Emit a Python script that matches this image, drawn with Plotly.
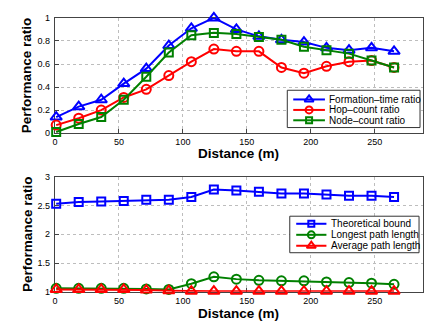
import plotly.graph_objects as go

# Distance (m) at which each configuration was measured
distance = [1, 18.6, 36.2, 53.8, 71.4, 89, 106.6, 124.2, 141.8, 159.4,
            177, 194.6, 212.2, 229.8, 247.4, 265]

# Upper panel: normalised performance ratios
formation_time = [0.14, 0.23, 0.29, 0.43, 0.56, 0.76, 0.91, 1.00, 0.90, 0.84,
                  0.81, 0.79, 0.74, 0.72, 0.74, 0.71]
hop_count = [0.07, 0.13, 0.20, 0.31, 0.38, 0.50, 0.62, 0.73, 0.71, 0.71,
             0.57, 0.52, 0.58, 0.62, 0.63, 0.57]
node_count = [0.01, 0.08, 0.14, 0.29, 0.49, 0.70, 0.85, 0.87, 0.86, 0.835,
              0.81, 0.75, 0.72, 0.69, 0.63, 0.57]

# Lower panel: path-length ratios
theoretical_bound = [2.53, 2.56, 2.57, 2.58, 2.60, 2.60, 2.65, 2.78, 2.76, 2.74,
                     2.71, 2.71, 2.69, 2.67, 2.67, 2.65]
longest_path = [1.06, 1.06, 1.06, 1.06, 1.05, 1.04, 1.14, 1.26, 1.22, 1.20,
                1.19, 1.19, 1.17, 1.16, 1.15, 1.13]
average_path = [1.04, 1.04, 1.04, 1.04, 1.03, 1.02, 1.01, 1.01, 1.01, 1.01,
                1.01, 1.01, 1.01, 1.01, 1.01, 1.01]

top_ticks = [0, 0.2, 0.4, 0.6, 0.8, 1]
top_ticklabels = ["0", "0.2", "0.4", "0.6", "0.8", "1"]
bottom_ticks = [1, 1.5, 2, 2.5, 3]
bottom_ticklabels = ["1", "1.5", "2", "2.5", "3"]
x_ticks = [0, 50, 100, 150, 200, 250, 300]

BLUE, RED, GREEN = "#0000ff", "#ff0000", "#008000"
FONT = "Liberation Sans, Arial, Helvetica, sans-serif"
W, H = 424, 321

top_series = [
    ("Formation\u2013time ratio", formation_time, BLUE, "triangle-up-open", 10),
    ("Hop\u2013count ratio", hop_count, RED, "circle-open", 9),
    ("Node\u2013count ratio", node_count, GREEN, "square-open", 8),
]
bottom_series = [
    ("Theoretical bound", theoretical_bound, BLUE, "square-open", 8),
    ("Longest path length", longest_path, GREEN, "circle-open", 9),
    ("Average path length", average_path, RED, "triangle-up-open", 10),
]

fig = go.Figure()

for name, vals, col, sym, sz in top_series:
    fig.add_trace(go.Scatter(
        x=distance, y=vals, mode="lines+markers", name=name,
        line=dict(color=col, width=2),
        marker=dict(symbol=sym, size=sz, color=col, line=dict(width=2, color=col)),
        cliponaxis=False, showlegend=False, xaxis="x", yaxis="y"))

for name, vals, col, sym, sz in bottom_series:
    fig.add_trace(go.Scatter(
        x=distance, y=vals, mode="lines+markers", name=name,
        line=dict(color=col, width=2),
        marker=dict(symbol=sym, size=sz, color=col, line=dict(width=2, color=col)),
        cliponaxis=False, showlegend=False, xaxis="x2", yaxis="y2"))

# Hand-drawn legends on a pixel-coordinate overlay (compact MATLAB-style rows)
def draw_legend(series, box, line_x, text_x, rows):
    x0, y0, x1, y1 = box
    fig.add_trace(go.Scatter(
        x=[x0, x1, x1, x0, x0], y=[y0, y0, y1, y1, y0], mode="lines",
        fill="toself", fillcolor="white", line=dict(color="#333", width=1),
        hoverinfo="skip", showlegend=False, xaxis="x3", yaxis="y3"))
    for (name, _, col, sym, sz), ry in zip(series, rows):
        xm = (line_x[0] + line_x[1]) / 2
        fig.add_trace(go.Scatter(
            x=[line_x[0], line_x[1]], y=[ry, ry], mode="lines",
            line=dict(color=col, width=2), hoverinfo="skip",
            showlegend=False, xaxis="x3", yaxis="y3"))
        fig.add_trace(go.Scatter(
            x=[xm], y=[ry], mode="markers",
            marker=dict(symbol=sym, size=sz - 2, color=col, line=dict(width=2, color=col)),
            hoverinfo="skip", showlegend=False, xaxis="x3", yaxis="y3"))
        fig.add_annotation(x=text_x, y=ry, xref="x3", yref="y3", text=name,
                           showarrow=False, xanchor="left", yanchor="middle",
                           font=dict(family=FONT, size=10, color="black"))

draw_legend(top_series, (287, 88, 421, 126.5), (293, 325), 327, [97.5, 108.3, 119])
draw_legend(bottom_series, (289.5, 218, 420, 255.7), (296, 326.5), 329, [225.8, 237.2, 248.5])

x_left = 52.4 / W
top_dom = [1 - 132.3 / H, 1 - 13.3 / H]
bot_dom = [1 - 296.0 / H, 1 - 177.3 / H]
x_max = (W - 52.4) / 1.292

axis_common = dict(
    showline=True, linecolor="#444", linewidth=1, mirror=True,
    ticks="inside", ticklen=4, tickcolor="#444",
    showgrid=True, gridcolor="#bdbdbd", griddash="dot", gridwidth=1,
    zeroline=False, layer="below traces",
    tickfont=dict(family=FONT, size=9, color="black"),
)

fig.update_layout(
    width=W, height=H,
    margin=dict(l=0, r=0, t=0, b=0),
    paper_bgcolor="white", plot_bgcolor="rgba(0,0,0,0)",
    font=dict(family=FONT, color="black"),
    xaxis=dict(domain=[x_left, 1], range=[0, x_max], tickvals=x_ticks,
               anchor="y", ticklabelstandoff=0, **axis_common),
    yaxis=dict(domain=top_dom, range=[0, 1], tickvals=top_ticks,
               ticktext=top_ticklabels, anchor="x", ticklabelstandoff=2,
               **axis_common),
    xaxis2=dict(domain=[x_left, 1], range=[0, x_max], tickvals=x_ticks,
                anchor="y2", ticklabelstandoff=0, **axis_common),
    yaxis2=dict(domain=bot_dom, range=[1, 3], tickvals=bottom_ticks,
                ticktext=bottom_ticklabels, anchor="x2", ticklabelstandoff=2,
                **axis_common),
    xaxis3=dict(domain=[0, 1], range=[0, W], visible=False, anchor="y3"),
    yaxis3=dict(domain=[0, 1], range=[H, 0], visible=False, anchor="x3"),
    showlegend=False,
)

# Axis titles
title_font = dict(family=FONT, size=13.5, color="black", weight="bold")
for yc in (72.8, 236.6):
    fig.add_annotation(x=24 / W, y=1 - yc / H, xref="paper", yref="paper",
                       text="Performance ratio", textangle=-90, showarrow=False,
                       xanchor="center", yanchor="middle", font=title_font)
for yc in (153.5, 318.0):
    fig.add_annotation(x=(52.4 + W) / 2 / W, y=1 - yc / H, xref="paper", yref="paper",
                       text="Distance (m)", showarrow=False,
                       xanchor="center", yanchor="middle", font=title_font)

fig.write_html("out.html")
